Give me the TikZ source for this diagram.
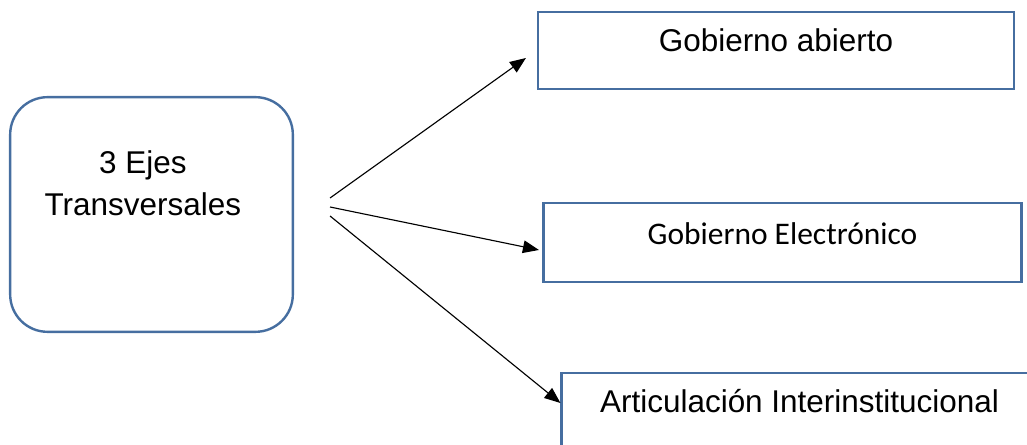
\documentclass[tikz,border=0pt]{standalone}
\usepackage{fontspec}
\setmainfont{Liberation Sans}
\newfontfamily\calibrifont{Carlito}
\usetikzlibrary{positioning,calc,arrows.meta}
\definecolor{boxblue}{RGB}{70,110,160}

\begin{document}
\begin{tikzpicture}[
    x=0.75pt, y=0.75pt,
    every node/.style={font=\fontsize{23.6}{31.5}\selectfont},
    ejesbox/.style={rectangle, draw=boxblue, line width=1.8pt, rounded corners=28pt, minimum width=212pt, minimum height=176pt},
    axisbox/.style={rectangle, draw=boxblue, line width=1.6pt, minimum width=357pt, minimum height=58pt, text height=0.6em, text depth=0.45em, inner sep=0pt},
    arrow/.style={-{Triangle[length=12pt,width=9.5pt]}, line width=0.85pt, color=black}
]
\clip (0,0) rectangle (1027,445);

% Main box
\node[ejesbox, label={[align=center, xshift=-6.5pt, yshift=23.8pt]center:3 Ejes\\Transversales}] (ejes) at (151.5,230.5) {};

% The three axes
\node[axisbox] (abierto) at (776,394.5) {Gobierno abierto};
\node[axisbox, minimum width=358.5pt, minimum height=59pt, text depth=0.3em, font=\calibrifont\fontsize{23.6}{31.5}\selectfont] (electronico) at (782.5,202.5) {Gobierno Electrónico};
\node[axisbox] (articulacion) at (799.5,33.5) {Articulación Interinstitucional};

% Fan of connectors
\coordinate (fan1) at ($(ejes.east)+(36,16.5)$);
\coordinate (fan2) at ($(ejes.east)+(36,7.5)$);
\coordinate (fan3) at ($(ejes.east)+(36,-1.5)$);

\draw[arrow] (fan1) -- ($(abierto.west)+(-11,-7.5)$);
\draw[arrow] (fan2) -- ($(electronico.west)+(-3.5,-7.5)$);
\draw[arrow] (fan3) -- ($(articulacion.west)+(0,8.5)$);

\end{tikzpicture}
\end{document}
